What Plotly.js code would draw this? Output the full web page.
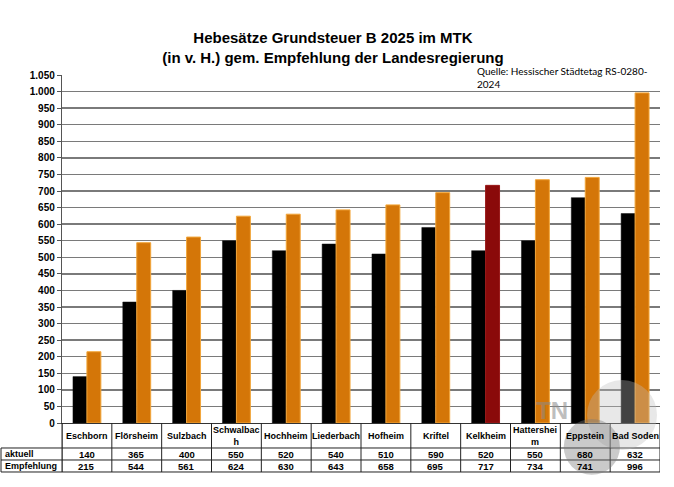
<!DOCTYPE html>
<html>
<head>
<meta charset="utf-8">
<script src="https://cdn.plot.ly/plotly-3.0.1.min.js"></script>
<style>html,body{margin:0;padding:0;background:#fff}#chart{width:674px;height:487px}</style>
</head>
<body>
<div id="chart"></div>
<script>
const categories = ['Eschborn','Flörsheim','Sulzbach','Schwalbach','Hochheim','Liederbach','Hofheim','Kriftel','Kelkheim','Hattersheim','Eppstein','Bad Soden'];
const headerLabels = ['Eschborn','Flörsheim','Sulzbach','Schwalbac<br>h','Hochheim','Liederbach','Hofheim','Kriftel','Kelkheim','Hattershei<br>m','Eppstein','Bad Soden'];
const aktuell = [140,365,400,550,520,540,510,590,520,550,680,632];
const empfehlung = [215,544,561,624,630,643,658,695,717,734,741,996];
const rowLabels = ['aktuell','Empfehlung'];
const highlighted = 'Kelkheim';

const FONT = 'Liberation Sans, Arial, sans-serif';
const ORANGE = '#D47608';
const DARKRED = '#8A0A0A';

const empColors = categories.map(c => c === highlighted ? DARKRED : ORANGE);
const empLine = categories.map(c => c === highlighted ? '#9a1a1a' : '#F2A63A');

const traces = [
  {type:'bar', name:'aktuell', x:categories, y:aktuell,
   marker:{color:'#000000', line:{color:'#111', width:0.5}}, hoverinfo:'x+y'},
  {type:'bar', name:'Empfehlung', x:categories, y:empfehlung,
   marker:{color:empColors, line:{color:empLine, width:1}}, hoverinfo:'x+y'}
];

const yHeaderBottom = -0.0718, yRow1Bottom = -0.1063, yRow2Bottom = -0.1408;
const xLabelLeft = -0.102;
const lineStyle = {color:'#222', width:1};

const shapes = [];
[yHeaderBottom, yRow1Bottom, yRow2Bottom].forEach(y => {
  shapes.push({type:'line', xref:'paper', yref:'paper', x0:xLabelLeft, x1:1, y0:y, y1:y, line:lineStyle});
});
shapes.push({type:'line', xref:'paper', yref:'paper', x0:xLabelLeft, x1:xLabelLeft, y0:yHeaderBottom, y1:yRow2Bottom, line:lineStyle});
shapes.push({type:'line', xref:'paper', yref:'paper', x0:0, x1:0, y0:0, y1:yRow2Bottom, line:lineStyle});
for (let i = 0; i <= categories.length; i++) {
  shapes.push({type:'line', xref:'x', yref:'paper', x0:i-0.5, x1:i-0.5, y0:0, y1:yRow2Bottom, line:lineStyle});
}
shapes.push({type:'circle', xref:'paper', yref:'paper', x0:0.878, x1:0.995, y0:-0.0776, y1:0.1236,
  fillcolor:'#bdbdbd', opacity:0.35, line:{width:0}, layer:'above'});
shapes.push({type:'circle', xref:'paper', yref:'paper', x0:0.839, x1:0.933, y0:-0.149, y1:0.0115,
  fillcolor:'#7a7a7a', opacity:0.4, line:{width:0}, layer:'above'});

const annotations = [];
categories.forEach((c, i) => {
  annotations.push({xref:'x', yref:'paper', x:c, y:-0.036, text:headerLabels[i], showarrow:false,
    font:{family:FONT, size:9, color:'#000', weight:'bold'}, yanchor:'middle', align:'center'});
  annotations.push({xref:'x', yref:'paper', x:c, y:-0.0891, text:String(aktuell[i]), showarrow:false,
    font:{family:FONT, size:9.5, color:'#000', weight:'bold'}, yanchor:'middle'});
  annotations.push({xref:'x', yref:'paper', x:c, y:-0.1236, text:String(empfehlung[i]), showarrow:false,
    font:{family:FONT, size:9.5, color:'#000', weight:'bold'}, yanchor:'middle'});
});
rowLabels.forEach((r, k) => {
  annotations.push({xref:'paper', yref:'paper', x:-0.099, y:[-0.0891,-0.1236][k], text:r, showarrow:false,
    xanchor:'left', yanchor:'middle', font:{family:FONT, size:9, color:'#000', weight:'bold'}});
});
annotations.push({xref:'paper', yref:'paper', x:0.69, y:1.0115, text:'Quelle: Hessischer Städtetag RS-0280-', showarrow:false,
  xanchor:'left', yanchor:'middle', font:{family:'Lato, Open Sans, sans-serif', size:10, color:'#000'}});
annotations.push({xref:'paper', yref:'paper', x:0.69, y:0.974, text:'2024', showarrow:false,
  xanchor:'left', yanchor:'middle', font:{family:'Lato, Open Sans, sans-serif', size:10, color:'#000'}});
annotations.push({xref:'paper', yref:'paper', x:0.85, y:-0.01, text:'TN', showarrow:false,
  font:{family:FONT, size:24, color:'#8a8a8a', weight:'bold'}, opacity:0.55});

const layout = {
  width:674, height:487,
  margin:{l:62, r:14, t:75, b:64},
  paper_bgcolor:'#fff', plot_bgcolor:'#fff',
  separators:',.',
  showlegend:false,
  barmode:'group', bargap:0.44, bargroupgap:0,
  title:{text:'Hebesätze Grundsteuer B 2025 im MTK<br>(in v. H.) gem. Empfehlung der Landesregierung',
    font:{family:FONT, size:15, color:'#000', weight:'bold'}, x:0.494, xanchor:'center', xref:'container',
    y:0.911, yanchor:'top', yref:'container'},
  xaxis:{type:'category', showticklabels:false, showgrid:false, zeroline:false,
    showline:true, linecolor:'#333', linewidth:1, ticks:'', range:[-0.5, categories.length-0.5]},
  yaxis:{range:[0,1050], dtick:50, tick0:0, tickformat:',d',
    showgrid:true, gridcolor:'#7a7a7a', gridwidth:1.5, zeroline:false,
    showline:true, linecolor:'#555', linewidth:1.2, ticks:'outside', ticklen:4, tickcolor:'#555',
    tickfont:{family:FONT, size:10, color:'#000', weight:'bold'}},
  shapes:shapes,
  annotations:annotations
};

Plotly.newPlot('chart', traces, layout, {displayModeBar:false, staticPlot:true});
</script>
</body>
</html>
